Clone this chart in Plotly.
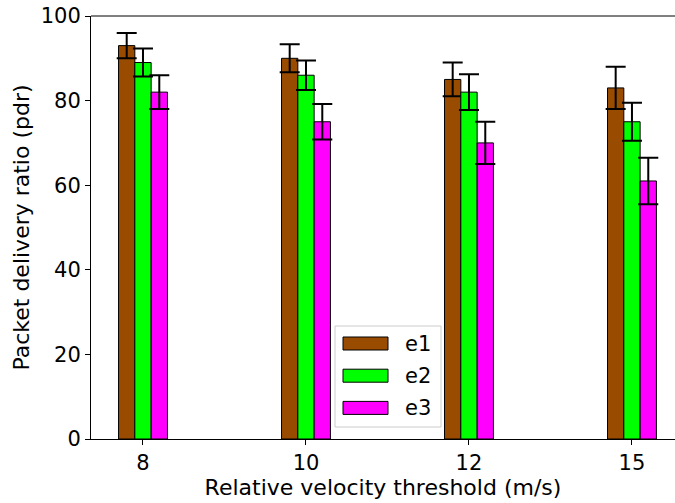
import plotly.graph_objects as go

categories = ["8", "10", "12", "15"]
series_names = ["e1", "e2", "e3"]
e1_values = [93, 90, 85, 83]
e2_values = [89, 86, 82, 75]
e3_values = [82, 75, 70, 61]
e1_errors = [3.0, 3.3, 4.0, 5.0]
e2_errors = [3.3, 3.5, 4.2, 4.5]
e3_errors = [4.0, 4.2, 5.0, 5.5]
colors = ["#994C00", "#00FF00", "#FF00FF"]
y_ticks = [0, 20, 40, 60, 80, 100]

values = [e1_values, e2_values, e3_values]
errors = [e1_errors, e2_errors, e3_errors]

W, H = 675, 503
L, R, T, B = 91, 0, 16, 64
pw, ph = W - L - R, H - T - B

fig = go.Figure()
for name, vals, errs, col in zip(series_names, values, errors, colors):
    fig.add_trace(go.Bar(
        x=categories, y=vals, name=name,
        marker=dict(color=col, line=dict(color="black", width=1)),
        error_y=dict(type="data", array=errs, visible=True,
                     color="black", thickness=2, width=10),
        showlegend=False,
    ))

font = "DejaVu Sans"
fs = 21

def px_x(p):
    return (p - L) / pw

def px_y(p):
    return (H - B - p) / ph

shapes = []
annotations = []
# custom legend box
shapes.append(dict(type="rect", xref="paper", yref="paper",
                   x0=px_x(335), x1=px_x(441), y0=px_y(427), y1=px_y(326),
                   line=dict(color="#cccccc", width=1), fillcolor="rgba(255,255,255,0.8)",
                   layer="above"))
for i, (name, col) in enumerate(zip(series_names, colors)):
    cy = 343.5 + i * 32.2
    shapes.append(dict(type="rect", xref="paper", yref="paper",
                       x0=px_x(343), x1=px_x(388), y0=px_y(cy + 6.5), y1=px_y(cy - 6.5),
                       line=dict(color="black", width=1), fillcolor=col, layer="above"))
    annotations.append(dict(xref="paper", yref="paper", x=px_x(403), y=px_y(cy),
                            text=name, showarrow=False, xanchor="left", yanchor="middle",
                            font=dict(family=font, size=fs, color="black")))

# top spine
shapes.append(dict(type="line", xref="paper", yref="paper", x0=0, x1=1, y0=1, y1=1,
                   line=dict(color="black", width=1)))

fig.update_layout(
    width=W, height=H,
    margin=dict(l=L, r=R, t=T, b=B),
    paper_bgcolor="white", plot_bgcolor="white",
    barmode="group", bargap=0.7, bargroupgap=0,
    font=dict(family=font, size=fs, color="black"),
    shapes=shapes, annotations=annotations,
    xaxis=dict(type="category", range=[-0.319, 3.264],
               showline=True, linecolor="black", linewidth=1,
               ticks="outside", ticklen=5, tickcolor="black",
               showgrid=False, zeroline=False,
               title=dict(text="Relative velocity threshold (m/s)", standoff=1,
                          font=dict(family=font, size=22))),
    yaxis=dict(range=[0, 100], tickvals=y_ticks,
               showline=True, linecolor="black", linewidth=1,
               ticks="outside", ticklen=5, tickcolor="black",
               showgrid=False, zeroline=False,
               title=dict(text="Packet delivery ratio (pdr)", standoff=5,
                          font=dict(family=font, size=22))),
)

fig.write_html("out.html")
